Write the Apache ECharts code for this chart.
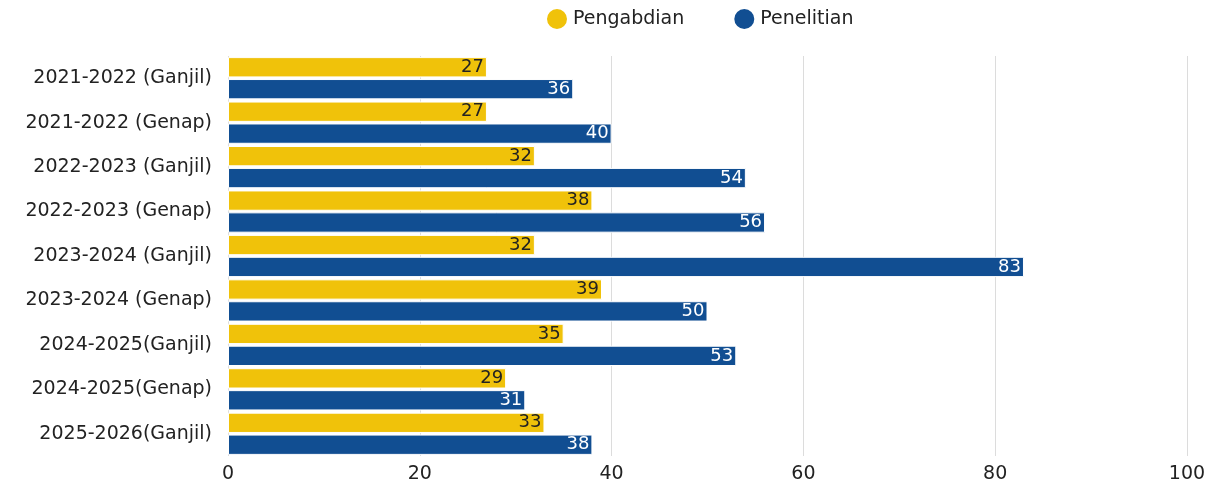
<!DOCTYPE html>
<html>
<head>
<meta charset="utf-8">
<script src="https://cdn.jsdelivr.net/npm/echarts@6/dist/echarts.min.js"></script>
<style>
  html, body { margin: 0; padding: 0; background: #fff; }
  #chart { width: 1215px; height: 486px; }
</style>
</head>
<body>
<div id="chart"></div>
<script>
const categories = [
  "2021-2022 (Ganjil)",
  "2021-2022 (Genap)",
  "2022-2023 (Ganjil)",
  "2022-2023 (Genap)",
  "2023-2024 (Ganjil)",
  "2023-2024 (Genap)",
  "2024-2025(Ganjil)",
  "2024-2025(Genap)",
  "2025-2026(Ganjil)"
];
const pengabdian = [27, 27, 32, 38, 32, 39, 35, 29, 33];
const penelitian = [36, 40, 54, 56, 83, 50, 53, 31, 38];

const font = "'DejaVu Sans', sans-serif";
let myChart = echarts.init(document.getElementById("chart"));
let option = {
  animation: false,
  textStyle: { fontFamily: font },
  legend: {
    top: 2,
    left: 540,
    icon: "circle",
    itemWidth: 22,
    itemHeight: 22,
    itemGap: 48,
    textStyle: { fontSize: 19, color: "#222", fontFamily: font }
  },
  grid: { left: 228, right: 28, top: 56, bottom: 30 },
  xAxis: {
    type: "value",
    min: 0,
    max: 100,
    interval: 20,
    axisLine: { show: false },
    axisTick: { show: false },
    axisLabel: { fontSize: 19, color: "#222", margin: 9 },
    splitLine: { lineStyle: { color: "#dcdcdc" } }
  },
  yAxis: {
    type: "category",
    inverse: true,
    data: categories,
    axisLine: { show: false },
    axisTick: { show: false },
    axisLabel: { fontSize: 19, color: "#222", margin: 16 }
  },
  series: [
    {
      name: "Pengabdian",
      type: "bar",
      data: pengabdian,
      barGap: "8%",
      barCategoryGap: "5%",
      itemStyle: { color: "#f0c20a", borderColor: "#fff", borderWidth: 1 },
      label: { show: true, position: "insideRight", fontSize: 18, color: "#222", distance: 3 }
    },
    {
      name: "Penelitian",
      type: "bar",
      data: penelitian,
      barGap: "8%",
      barCategoryGap: "5%",
      itemStyle: { color: "#114e92", borderColor: "#fff", borderWidth: 1 },
      label: { show: true, position: "insideRight", fontSize: 18, color: "#fff", distance: 3 }
    }
  ]
};
myChart.setOption(option);
</script>
</body>
</html>
